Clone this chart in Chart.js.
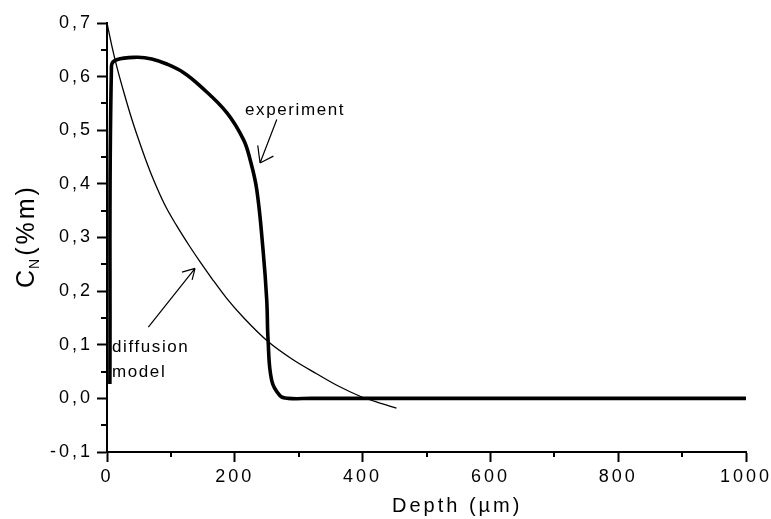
<!DOCTYPE html>
<html><head><meta charset="utf-8">
<script src="https://cdn.jsdelivr.net/npm/chart.js@4"></script>
<style>html,body{margin:0;padding:0;background:#fff}canvas{display:block}</style>
</head><body>
<canvas id="c" width="771" height="519"></canvas>
<script>
// ---- data ----
const expDepth = [4.5, 7, 15.2, 46.5, 70, 93.5, 120, 145.6, 187.4, 213.4, 223.9, 234.4, 244.2, 250, 252.1, 257.8, 270.8, 283.4, 320, 1000];
const expCN    = [0.027, 0.62, 0.6316, 0.636, 0.633, 0.6235, 0.6074, 0.5828, 0.533, 0.483, 0.4455, 0.389, 0.2768, 0.183, 0.108, 0.033, 0.005, 0, 0, 0];
const difDepth = [0, 8, 15, 27, 39, 49, 60, 72, 90, 109, 128, 146, 165, 187, 215, 252, 290, 328, 362, 396, 425, 453];
const difCN    = [0.7, 0.655, 0.62, 0.568, 0.52, 0.484, 0.447, 0.41, 0.362, 0.322, 0.286, 0.254, 0.222, 0.187, 0.149, 0.106, 0.073, 0.046, 0.023, 0.004, -0.008, -0.018];
const xTicks = [0, 200, 400, 600, 800, 1000];
const xMinorTicks = [100, 300, 500, 700, 900];
const yTicks = [-0.1, 0, 0.1, 0.2, 0.3, 0.4, 0.5, 0.6, 0.7];
const yMinorTicks = [-0.05, 0.05, 0.15, 0.25, 0.35, 0.45, 0.55, 0.65];
const xTitle = 'Depth (µm)';
const yTitleParts = ['C', 'N', '(%m)'];
const expLabel = ['experiment'];
const expLabelAt = [216, 0.528];
const expArrow = [[265.7, 0.520], [239.5, 0.439]];
const expArrowBarbs = [[235.9, 0.4717], [260.4, 0.4517]];
const difLabel = ['diffusion', 'model'];
const difLabelAt = [[7.8, 0.0857], [7.8, 0.0407]];
const difArrow = [[64.7, 0.133], [137.8, 0.2425]];
const difArrowBarbs = [[117.4, 0.2355], [133.2, 0.221]];

const toPts = (xs, ys) => xs.map((x, i) => ({x, y: ys[i]}));
const FONT = '"Liberation Sans", Arial, sans-serif';
const TICK_SPACING = '3px';

const spacing = {
  id: 'spacing',
  beforeUpdate(c) { c.ctx.letterSpacing = TICK_SPACING; },
  beforeLayout(c) { c.ctx.letterSpacing = TICK_SPACING; },
  beforeDraw(c) {
    const ctx = c.ctx;
    ctx.save();
    ctx.letterSpacing = '0px';
    ctx.fillStyle = '#fff';
    ctx.fillRect(0, 0, c.width, c.height);
    ctx.restore();
    ctx.letterSpacing = TICK_SPACING;
  }
};

const deco = {
  id: 'deco',
  afterDraw(c) {
    const ctx = c.ctx, xs = c.scales.x, ys = c.scales.y, ca = c.chartArea;
    const P = (p) => [xs.getPixelForValue(p[0]), ys.getPixelForValue(p[1])];
    ctx.save();
    ctx.strokeStyle = '#000';
    ctx.fillStyle = '#000';
    // minor ticks
    ctx.lineWidth = 2;
    ctx.beginPath();
    xMinorTicks.forEach(v => { const px = Math.round(xs.getPixelForValue(v)); ctx.moveTo(px, ca.bottom); ctx.lineTo(px, ca.bottom + 5); });
    yMinorTicks.forEach(v => { const py = Math.round(ys.getPixelForValue(v)); ctx.moveTo(ca.left - 6, py); ctx.lineTo(ca.left, py); });
    ctx.stroke();
    // arrows
    ctx.lineWidth = 1.2;
    [[expArrow, expArrowBarbs], [difArrow, difArrowBarbs]].forEach(([a, b]) => {
      const t = P(a[0]), h = P(a[1]);
      ctx.beginPath();
      ctx.moveTo(t[0], t[1]); ctx.lineTo(h[0], h[1]);
      b.forEach(bb => { const q = P(bb); ctx.moveTo(q[0], q[1]); ctx.lineTo(h[0], h[1]); });
      ctx.stroke();
    });
    // annotation labels
    ctx.font = '17px ' + FONT;
    ctx.letterSpacing = '1.6px';
    ctx.textAlign = 'left';
    ctx.textBaseline = 'alphabetic';
    let p = P(expLabelAt);
    ctx.fillText(expLabel[0], p[0], p[1]);
    difLabel.forEach((t, i) => { const q = P(difLabelAt[i]); ctx.fillText(t, q[0], q[1]); });
    // x title
    ctx.font = '20px ' + FONT;
    ctx.letterSpacing = '3px';
    ctx.textAlign = 'center';
    ctx.fillText(xTitle, ca.left + 0.548 * (ca.right - ca.left), 512);
    // y title (rotated, with subscript)
    ctx.translate(34, 288);
    ctx.rotate(-Math.PI / 2);
    ctx.textAlign = 'left';
    ctx.letterSpacing = '3px';
    ctx.font = '25px ' + FONT;
    let x = 0;
    ctx.fillText(yTitleParts[0], x, 0); x += ctx.measureText(yTitleParts[0]).width - 2;
    ctx.font = '14px ' + FONT;
    ctx.fillText(yTitleParts[1], x, 5); x += ctx.measureText(yTitleParts[1]).width;
    ctx.font = '25px ' + FONT;
    ctx.fillText(yTitleParts[2], x, 0);
    ctx.restore();
  }
};

new Chart(document.getElementById('c'), {
  type: 'scatter',
  data: {
    datasets: [
      { label: 'experiment', data: toPts(expDepth, expCN), showLine: true, borderColor: '#000', borderWidth: 3.6, pointRadius: 0, tension: 0.4, fill: false },
      { label: 'diffusion model', data: toPts(difDepth, difCN), showLine: true, borderColor: '#000', borderWidth: 1.3, pointRadius: 0, cubicInterpolationMode: 'monotone', fill: false }
    ]
  },
  options: {
    responsive: false,
    animation: false,
    devicePixelRatio: 1,
    layout: { padding: { left: 0, right: 25, top: 23, bottom: 0 } },
    plugins: { legend: { display: false }, tooltip: { enabled: false } },
    scales: {
      x: {
        type: 'linear', min: 0, max: 1000,
        afterBuildTicks: s => { s.ticks = xTicks.map(v => ({value: v})); },
        ticks: { color: '#000', font: { size: 18, family: FONT }, padding: 4, maxRotation: 0, autoSkip: false,
          callback: v => String(v) },
        grid: { drawOnChartArea: false, drawTicks: true, tickLength: 10, tickColor: '#000', tickWidth: 2 },
        border: { display: true, color: '#000', width: 2 },
        afterFit: s => { s.height = 67; s.paddingLeft = 0; s.paddingRight = 0; }
      },
      y: {
        type: 'linear', min: -0.1, max: 0.7,
        afterBuildTicks: s => { s.ticks = yTicks.map(v => ({value: v})); },
        ticks: { color: '#000', font: { size: 18, family: FONT }, padding: 4, autoSkip: false,
          callback: v => v.toFixed(1).replace('.', ',') },
        grid: { drawOnChartArea: false, drawTicks: true, tickLength: 10, tickColor: '#000', tickWidth: 2 },
        border: { display: true, color: '#000', width: 2 },
        afterFit: s => { s.width = 107; s.paddingTop = 0; s.paddingBottom = 0; }
      }
    }
  },
  plugins: [spacing, deco]
});
</script>
</body></html>
